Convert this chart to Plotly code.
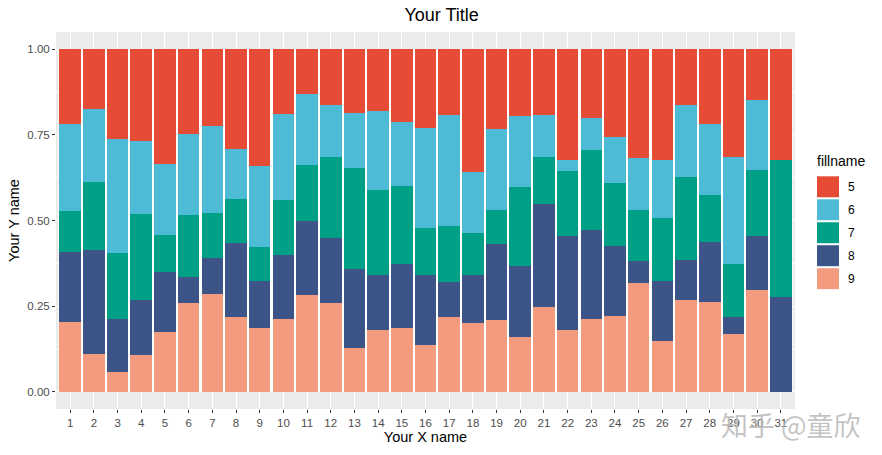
import plotly.graph_objects as go

categories = [str(i) for i in range(1, 32)]
fill_levels = ["5", "6", "7", "8", "9"]
colors = {"5": "#E64B35", "6": "#4DBBD5", "7": "#00A087", "8": "#3C5488", "9": "#F39B7F"}

v5 = [0.218, 0.174, 0.261, 0.267, 0.336, 0.247, 0.224, 0.291, 0.342, 0.188,
      0.131, 0.162, 0.186, 0.180, 0.212, 0.230, 0.192, 0.358, 0.233, 0.195,
      0.192, 0.323, 0.201, 0.256, 0.317, 0.323, 0.163, 0.218, 0.314, 0.148, 0.323]
v6 = [0.253, 0.213, 0.334, 0.213, 0.205, 0.238, 0.253, 0.145, 0.236, 0.251,
      0.206, 0.152, 0.160, 0.230, 0.186, 0.293, 0.325, 0.177, 0.235, 0.206,
      0.122, 0.032, 0.093, 0.134, 0.151, 0.171, 0.209, 0.209, 0.314, 0.204, 0.0]
v7 = [0.121, 0.199, 0.193, 0.252, 0.110, 0.180, 0.133, 0.131, 0.099, 0.163,
      0.163, 0.238, 0.296, 0.248, 0.230, 0.137, 0.163, 0.123, 0.102, 0.233,
      0.137, 0.189, 0.235, 0.183, 0.151, 0.183, 0.244, 0.137, 0.154, 0.192, 0.401]
v8 = [0.205, 0.304, 0.153, 0.160, 0.174, 0.075, 0.105, 0.214, 0.136, 0.185,
      0.218, 0.189, 0.230, 0.162, 0.185, 0.202, 0.101, 0.140, 0.220, 0.205,
      0.301, 0.276, 0.259, 0.205, 0.064, 0.175, 0.117, 0.174, 0.049, 0.159, 0.276]
v9 = [0.203, 0.110, 0.059, 0.108, 0.175, 0.260, 0.285, 0.219, 0.187, 0.213,
      0.282, 0.259, 0.128, 0.180, 0.187, 0.138, 0.219, 0.202, 0.210, 0.161,
      0.248, 0.180, 0.212, 0.222, 0.317, 0.148, 0.267, 0.262, 0.169, 0.297, 0.0]

y_ticks = [0, 0.25, 0.5, 0.75, 1.0]
y_ticklabels = ["0.00", "0.25", "0.50", "0.75", "1.00"]

values = {"5": v5, "6": v6, "7": v7, "8": v8, "9": v9}
xpos = list(range(1, len(categories) + 1))

FONT = "Liberation Sans, Arial, sans-serif"
W, H = 882, 455
L, R, T, B = 56, 87, 31.5, 46
PW, PH = W - L - R, H - T - B


def px(x):
    return (x - L) / PW


def py(y):
    return 1 - (y - T) / PH


fig = go.Figure()

# bottom-most first (ggplot stacks first level on top)
for lvl in reversed(fill_levels):
    fig.add_trace(go.Bar(
        x=xpos, y=values[lvl], name=lvl,
        marker=dict(color=colors[lvl], line=dict(width=0)),
        width=0.91, showlegend=False,
        hovertemplate="%{x}: %{y}<extra>" + lvl + "</extra>",
    ))

# white backing behind bars so the gaps appear white
fig.add_shape(type="rect", xref="x", yref="y", x0=0.5, x1=len(categories) + 0.5,
              y0=0, y1=1, fillcolor="white", line=dict(width=0), layer="below")

# ggplot-like legend
fig.add_annotation(xref="paper", yref="paper", x=px(815), y=py(161),
                   text="fillname", showarrow=False, xanchor="left", yanchor="middle",
                   font=dict(family=FONT, size=14, color="black"))
for i, lvl in enumerate(fill_levels):
    top = 176 + i * 23
    y0, y1 = py(top + 21), py(top)
    fig.add_shape(type="rect", xref="paper", yref="paper", x0=px(817), x1=px(839), y0=y0, y1=y1,
                  fillcolor=colors[lvl], line=dict(width=0))
    fig.add_annotation(xref="paper", yref="paper", x=px(846), y=(y0 + y1) / 2,
                       text=lvl, showarrow=False, xanchor="left", yanchor="middle",
                       font=dict(family=FONT, size=12, color="black"))

# watermark
fig.add_annotation(xref="paper", yref="paper", x=px(791), y=py(425),
                   text="知乎 @童欣", showarrow=False, xanchor="center", yanchor="middle",
                   font=dict(family="Noto Sans CJK SC", size=27, color="rgba(185,185,185,0.85)"))

fig.update_layout(
    width=W, height=H,
    barmode="stack", bargap=0.0,
    paper_bgcolor="white", plot_bgcolor="#EBEBEB",
    margin=dict(l=L, r=R, t=T, b=B, autoexpand=False),
    title=dict(text="Your Title", x=px(426), xanchor="center", y=1 - 15 / H, yanchor="middle",
               font=dict(family=FONT, size=18, color="black")),
    font=dict(family=FONT),
)
fig.update_xaxes(
    range=[0.4, len(categories) + 0.6], tickvals=xpos, ticktext=categories,
    showgrid=True, gridcolor="white", gridwidth=1.1, zeroline=False,
    ticks="outside", ticklen=3, tickcolor="#333333", tickwidth=1,
    tickfont=dict(family=FONT, size=11.5, color="#4D4D4D"),
    title=dict(text="Your X name", font=dict(family=FONT, size=14.5, color="black"), standoff=4),
    showline=False, automargin=False,
)
fig.update_yaxes(
    range=[-0.05, 1.05], tickvals=y_ticks, ticktext=y_ticklabels,
    showgrid=True, gridcolor="white", gridwidth=1.1, zeroline=False,
    minor=dict(tickvals=[0.125, 0.375, 0.625, 0.875], showgrid=True, gridcolor="white", gridwidth=0.5, ticks=""),
    ticks="outside", ticklen=3, tickcolor="#333333", tickwidth=1,
    tickfont=dict(family=FONT, size=11.5, color="#4D4D4D"),
    title=dict(text="Your Y name", font=dict(family=FONT, size=14.5, color="black"), standoff=4),
    showline=False, automargin=False,
)

fig.write_html("out.html", config={"displayModeBar": False},
               post_script="document.body.style.margin='0';")
